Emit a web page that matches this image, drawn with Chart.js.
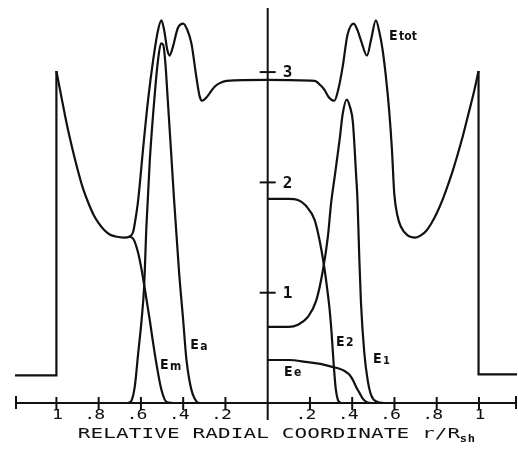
<!DOCTYPE html>
<html>
<head>
<meta charset="utf-8">
<script src="https://cdn.jsdelivr.net/npm/chart.js@4"></script>
<style>
  html, body { margin: 0; padding: 0; background: #fff; }
  canvas { display: block; }
</style>
</head>
<body>
<canvas id="energyChart" width="518" height="452"></canvas>
<script>
// axis ranges (r/R_sh on both sides of the centre, energy density upward)
const xMin = -1.196, xMax = 1.18;
const yMin = -0.154, yMax = 3.581;

// tick values and their printed labels
const xTicks = [-1, -0.8, -0.6, -0.4, -0.2, 0.2, 0.4, 0.6, 0.8, 1];
const xTickLabels = ['1', '.8', '.6', '.4', '.2', '.2', '.4', '.6', '.8', '1'];
const yTicks = [1, 2, 3];
const yTickLabels = ['1', '2', '3'];

// jump at the shock front, [x, y]
const stepLeft = [[-1.2, 0.25], [-1.0, 0.25], [-1.0, 3.01]];
const stepRight = [[0.998, 3.01], [0.998, 0.26], [1.2, 0.26]];

// total energy
const eTot = [
  [-1.0, 3.01], [-0.975, 2.76], [-0.95, 2.52], [-0.925, 2.31], [-0.90, 2.12],
  [-0.875, 1.95], [-0.85, 1.82], [-0.825, 1.71], [-0.80, 1.63], [-0.775, 1.57],
  [-0.75, 1.53], [-0.72, 1.51], [-0.68, 1.50], [-0.652, 1.51],
  [-0.637, 1.55], [-0.628, 1.64], [-0.613, 1.84], [-0.59, 2.30], [-0.566, 2.75],
  [-0.542, 3.11], [-0.519, 3.38], [-0.503, 3.47], [-0.49, 3.38], [-0.475, 3.20],
  [-0.464, 3.15], [-0.45, 3.22], [-0.425, 3.40], [-0.40, 3.44], [-0.38, 3.38],
  [-0.361, 3.26], [-0.338, 2.96], [-0.322, 2.78], [-0.309, 2.74], [-0.29, 2.77],
  [-0.274, 2.81], [-0.25, 2.87], [-0.227, 2.90], [-0.195, 2.92], [0, 2.93],
  [0.222, 2.92], [0.25, 2.88], [0.268, 2.84], [0.29, 2.77], [0.315, 2.74],
  [0.335, 2.85], [0.355, 3.05], [0.378, 3.34], [0.407, 3.44], [0.425, 3.38],
  [0.441, 3.29], [0.47, 3.15], [0.49, 3.30], [0.512, 3.47], [0.53, 3.35],
  [0.544, 3.20], [0.56, 2.95], [0.575, 2.65], [0.588, 2.30], [0.599, 1.90],
  [0.614, 1.70], [0.63, 1.60], [0.662, 1.52], [0.70, 1.50], [0.725, 1.52],
  [0.75, 1.56], [0.775, 1.63], [0.80, 1.72], [0.825, 1.83], [0.85, 1.96],
  [0.875, 2.10], [0.90, 2.26], [0.925, 2.43], [0.95, 2.62], [0.975, 2.81],
  [0.998, 3.01]
];

// left half components
const eM = [
  [-0.66, 1.51], [-0.637, 1.49], [-0.613, 1.36], [-0.597, 1.21], [-0.582, 1.04],
  [-0.558, 0.75], [-0.542, 0.54], [-0.527, 0.36], [-0.503, 0.12], [-0.479, 0.01],
  [-0.45, 0]
];
const eA = [
  [-0.66, 0], [-0.645, 0.02], [-0.629, 0.15], [-0.613, 0.45], [-0.597, 0.75],
  [-0.585, 1.05], [-0.574, 1.60], [-0.558, 2.20], [-0.534, 2.81], [-0.519, 3.11],
  [-0.505, 3.26], [-0.495, 3.25], [-0.485, 3.10], [-0.473, 2.75], [-0.458, 2.30],
  [-0.443, 1.84], [-0.42, 1.20], [-0.40, 0.75], [-0.385, 0.40], [-0.37, 0.20],
  [-0.355, 0.08], [-0.335, 0.01], [-0.32, 0]
];

// right half components
const e1 = [
  [0, 0.69], [0.10, 0.69], [0.143, 0.71], [0.19, 0.78], [0.23, 0.93],
  [0.262, 1.21], [0.285, 1.51], [0.30, 1.81], [0.317, 2.05], [0.34, 2.38],
  [0.355, 2.62], [0.374, 2.75], [0.39, 2.68], [0.403, 2.55], [0.419, 2.05],
  [0.425, 1.84], [0.433, 1.35], [0.441, 0.93], [0.457, 0.46], [0.473, 0.21],
  [0.49, 0.07], [0.52, 0.01], [0.55, 0]
];
const e2 = [
  [0, 1.85], [0.10, 1.85], [0.143, 1.84], [0.18, 1.79], [0.222, 1.66],
  [0.245, 1.48], [0.267, 1.24], [0.28, 1.06], [0.293, 0.85], [0.303, 0.62],
  [0.312, 0.36], [0.322, 0.13], [0.332, 0.03], [0.345, 0]
];
const eE = [
  [0, 0.39], [0.10, 0.39], [0.19, 0.37], [0.25, 0.355], [0.30, 0.33],
  [0.34, 0.31], [0.364, 0.29], [0.385, 0.26], [0.403, 0.21], [0.42, 0.14],
  [0.435, 0.09], [0.45, 0.04], [0.467, 0.01], [0.49, 0]
];

function pts(arr) {
    return arr.map(function(p) { return { x: p[0], y: p[1] }; });
}

function curve(arr) {
    return { data: pts(arr), showLine: true, cubicInterpolationMode: 'monotone' };
}

function step(arr) {
    return { data: pts(arr), showLine: true, tension: 0 };
}

// curve labels, placed in data units
const curveLabels = [
    { main: 'E', sub: 'tot', x: 0.574, y: 3.32, subSize: 12, subDrop: 0 },
    { main: 'E', sub: 'a', x: -0.367, y: 0.52, subSize: 12, subDrop: 1 },
    { main: 'E', sub: 'm', x: -0.51, y: 0.34, subSize: 12, subDrop: 1 },
    { main: 'E', sub: '2', x: 0.323, y: 0.55, subSize: 12, subDrop: 1 },
    { main: 'E', sub: '1', x: 0.498, y: 0.40, subSize: 11, subDrop: 2 },
    { main: 'E', sub: 'e', x: 0.077, y: 0.28, subSize: 12, subDrop: 1 }
];

var INK = '#111';
var MONO = "'DejaVu Sans Mono', 'Liberation Mono', monospace";
var NARROW = "'DejaVu Sans Condensed', 'Liberation Sans Narrow', sans-serif";

// draw one char, stretched a bit to look like the plotter lettering
function wideChar(ctx, ch, cx, cy, stretch) {
    ctx.save();
    ctx.translate(cx, cy);
    ctx.scale(stretch, 1);
    ctx.fillText(ch, 0, 0);
    ctx.restore();
}

const axesPlugin = {
    id: 'crossAxes',
    afterDatasetsDraw: function(chart) {
        var ctx = chart.ctx;
        var xs = chart.scales.x, ys = chart.scales.y;
        var area = chart.chartArea;
        var x0 = xs.getPixelForValue(0);
        var y0 = ys.getPixelForValue(0);

        ctx.save();
        ctx.strokeStyle = INK;
        ctx.fillStyle = INK;
        ctx.lineWidth = 2;
        ctx.lineCap = 'butt';

        // horizontal axis with end marks
        ctx.beginPath();
        ctx.moveTo(area.left, y0);
        ctx.lineTo(area.right, y0);
        ctx.moveTo(area.left + 1, y0 - 7);
        ctx.lineTo(area.left + 1, y0 + 6);
        ctx.moveTo(area.right - 1, y0 - 7);
        ctx.lineTo(area.right - 1, y0 + 6);
        ctx.stroke();

        // vertical axis at the centre
        ctx.beginPath();
        ctx.moveTo(x0, area.top);
        ctx.lineTo(x0, area.bottom);
        ctx.stroke();

        // x ticks cross the axis
        ctx.font = '14px ' + MONO;
        ctx.textAlign = 'center';
        ctx.textBaseline = 'middle';
        xTicks.forEach(function(v, i) {
            var px = xs.getPixelForValue(v);
            ctx.beginPath();
            ctx.moveTo(px, y0 - 6);
            ctx.lineTo(px, y0 + 7);
            ctx.stroke();
            var lab = xTickLabels[i];
            var digit = lab.charAt(lab.length - 1);
            wideChar(ctx, digit, px + 1, y0 + 12, 1.3);
            if (lab.length > 1) {
                wideChar(ctx, '.', px - 9, y0 + 12, 1.3);
            }
        });

        // y ticks with labels to the right
        ctx.font = 'bold 16px ' + MONO;
        ctx.textAlign = 'center';
        yTicks.forEach(function(v, i) {
            var py = ys.getPixelForValue(v);
            ctx.beginPath();
            ctx.moveTo(x0 - 8, py);
            ctx.lineTo(x0 + 8, py);
            ctx.stroke();
            wideChar(ctx, yTickLabels[i], x0 + 20, py + 1, 1.0);
        });

        // axis title
        var title = 'RELATIVE RADIAL COORDINATE r/R';
        var step = 12.75;
        ctx.font = '14px ' + MONO;
        for (var k = 0; k < title.length; k++) {
            wideChar(ctx, title.charAt(k), 84 + k * step, 434, 1.5);
        }
        ctx.font = 'bold 11px ' + MONO;
        wideChar(ctx, 's', 84 + title.length * step - 3, 439, 1.1);
        wideChar(ctx, 'h', 84 + title.length * step + 5, 439, 1.1);

        // curve labels
        ctx.textAlign = 'left';
        ctx.textBaseline = 'middle';
        curveLabels.forEach(function(l) {
            var px = xs.getPixelForValue(l.x);
            var py = ys.getPixelForValue(l.y);
            ctx.font = 'bold 14px ' + NARROW;
            ctx.fillText(l.main, px, py);
            var w = ctx.measureText(l.main).width;
            ctx.font = 'bold ' + l.subSize + 'px ' + NARROW;
            ctx.fillText(l.sub, px + w + 1.5, py + l.subDrop);
        });

        ctx.restore();
    }
};

var ctx = document.getElementById('energyChart').getContext('2d');
var energyChart = new Chart(ctx, {
    type: 'scatter',
    data: {
        datasets: [
            step(stepLeft),
            step(stepRight),
            curve(eTot),
            curve(eM),
            curve(eA),
            curve(e1),
            curve(e2),
            curve(eE)
        ]
    },
    options: {
        responsive: false,
        animation: false,
        layout: {
            padding: { left: 15, right: 1, top: 8, bottom: 32 }
        },
        scales: {
            x: { type: 'linear', min: xMin, max: xMax, display: false },
            y: { type: 'linear', min: yMin, max: yMax, display: false }
        },
        elements: {
            point: { radius: 0, hoverRadius: 0 },
            line: { borderColor: INK, borderWidth: 2.2, fill: false }
        },
        plugins: {
            legend: { display: false },
            tooltip: { enabled: false }
        }
    },
    plugins: [axesPlugin]
});
</script>
</body>
</html>
